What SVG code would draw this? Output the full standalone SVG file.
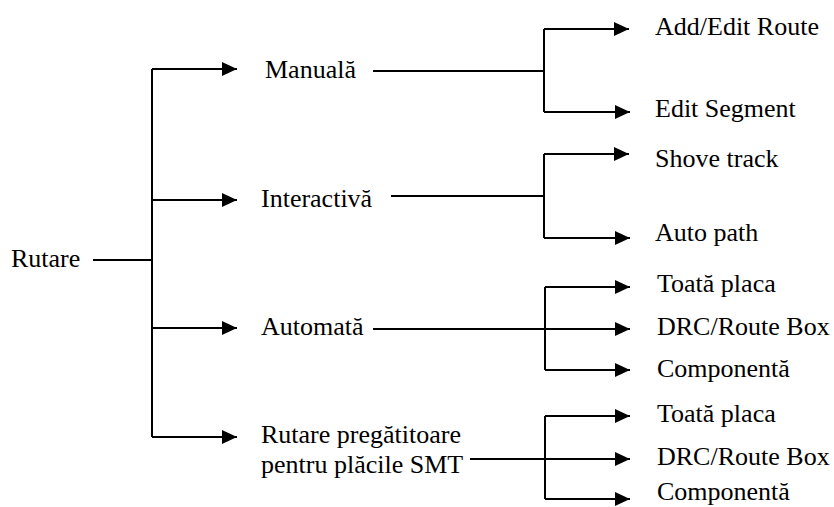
<svg xmlns="http://www.w3.org/2000/svg" width="834" height="507" viewBox="0 0 834 507">
<defs>
<marker id="ah" viewBox="0 0 15 14" refX="15" refY="7" markerWidth="15" markerHeight="14" markerUnits="userSpaceOnUse" orient="auto">
<path d="M0,0 L15,7 L0,14 Z" fill="#000"/>
</marker>
<style>
.c{fill:none;stroke:#000;stroke-width:2}
.a{fill:none;stroke:#000;stroke-width:2;marker-end:url(#ah)}
</style>
</defs>
<rect width="834" height="507" fill="#fff"/>
<g id="connectors">
<path class="c" d="M93,260 H152 M152,69 V437"/>
<path class="a" d="M152,69 H237"/>
<path class="a" d="M152,200 H237"/>
<path class="a" d="M152,328 H237"/>
<path class="a" d="M152,437 H237"/>
<path class="c" d="M373,71 H544 M544,29 V112"/>
<path class="a" d="M544,29 H629"/>
<path class="a" d="M544,112 H630"/>
<path class="c" d="M391,196 H544 M544,154 V238"/>
<path class="a" d="M544,154 H629"/>
<path class="a" d="M544,238 H630"/>
<path class="c" d="M373,329 H545 M545,287 V370"/>
<path class="a" d="M545,287 H630"/>
<path class="a" d="M545,329 H630"/>
<path class="a" d="M545,370 H630"/>
<path class="c" d="M470,459 H545 M545,416 V499"/>
<path class="a" d="M545,416 H630"/>
<path class="a" d="M545,459 H630"/>
<path class="a" d="M545,499 H630"/>
</g>
<g font-family="Liberation Serif, serif" font-size="26" fill="#000">
<g id="rutare"><text x="11" y="267">Rutare</text></g>
<g id="manuala"><text x="265" y="78">Manuală</text></g>
<g id="interactiva"><text x="261" y="207">Interactivă</text></g>
<g id="automata"><text x="261" y="335">Automată</text></g>
<g id="pregatitoare"><text x="261" y="443">Rutare pregătitoare</text><text x="261" y="473">pentru plăcile SMT</text></g>
<g id="add-edit-route"><text x="655" y="35">Add/Edit Route</text></g>
<g id="edit-segment"><text x="655" y="117">Edit Segment</text></g>
<g id="shove-track"><text x="655" y="167">Shove track</text></g>
<g id="auto-path"><text x="655" y="241">Auto path</text></g>
<g id="toata-placa-1"><text x="657" y="292">Toată placa</text></g>
<g id="drc-1"><text x="657" y="335">DRC/Route Box</text></g>
<g id="componenta-1"><text x="657" y="377">Componentă</text></g>
<g id="toata-placa-2"><text x="657" y="422">Toată placa</text></g>
<g id="drc-2"><text x="657" y="465">DRC/Route Box</text></g>
<g id="componenta-2"><text x="657" y="500">Componentă</text></g>
</g>
</svg>
